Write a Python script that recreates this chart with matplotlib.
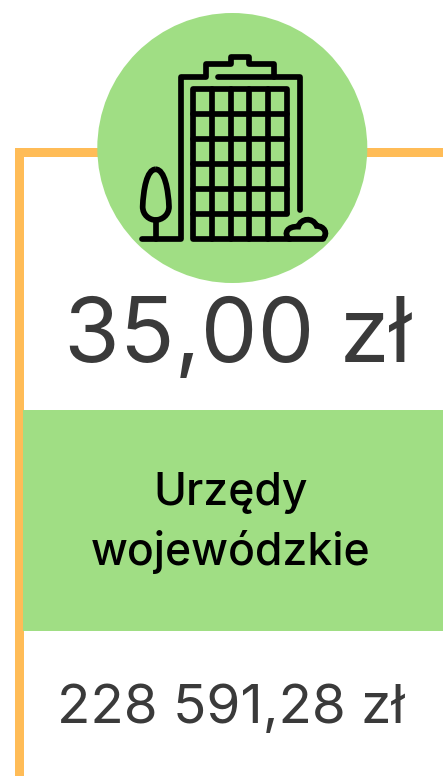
import matplotlib
matplotlib.use("Agg")
import matplotlib.pyplot as plt
from matplotlib.patches import Circle, Rectangle, PathPatch
from matplotlib.path import Path

# Values shown on the card
price_label = "35,00 zł"
category_lines = ["Urzędy", "wojewódzkie"]
total_label = "228 591,28 zł"

ORANGE = "#FFBC57"
GREEN = "#A0DE84"
DARK = "#3A3A3A"
FONT = ["Inter", "DejaVu Sans"]

W, H = 443, 776
fig = plt.figure(figsize=(W / 100, H / 100), dpi=100, facecolor="white")
ax = fig.add_axes([0, 0, 1, 1])
ax.set_xlim(0, W)
ax.set_ylim(H, 0)
ax.axis("off")

# Orange frame
ax.add_patch(Rectangle((15, 148), W - 15, 9, color=ORANGE, lw=0, zorder=1))
ax.add_patch(Rectangle((15, 148), 9, H - 148, color=ORANGE, lw=0, zorder=1))
# Green band
ax.add_patch(Rectangle((23, 410), W - 23, 220.5, color=GREEN, lw=0, zorder=2))
# Circle
ax.add_patch(Circle((232.3, 148), 135, color=GREEN, lw=0, zorder=3))


def z(px, py):
    """Icon sketch coordinates to picture pixels."""
    return (px / 3 + 90, py / 3)


LW = 4.1


def stroke(points):
    ax.plot(*zip(*[z(*p) for p in points]), color="black", lw=LW,
            solid_capstyle="round", solid_joinstyle="round", zorder=4)


# Building outline and roof
stroke([(155, 717), (272, 717), (272, 230), (347, 230), (347, 192), (422, 192),
        (422, 172), (478, 172), (478, 192), (553, 192), (553, 230)])
stroke([(383, 230), (630, 230), (630, 630)])
# Windows
stroke([(590, 640), (590, 268), (308, 268), (308, 717), (600, 717)])
for gx in (365, 422, 478, 535):
    stroke([(gx, 268), (gx, 717)])
for gy in (343, 418, 492, 567, 642):
    stroke([(308, gy), (590, gy)])
# Tree
stroke([(197, 660), (197, 717)])
C4 = Path.CURVE4
tree = [(197, 508), (170, 508), (160, 570), (158, 620),
        (158, 645), (178, 660), (197, 660),
        (216, 660), (237, 645), (237, 620),
        (235, 570), (224, 508), (197, 508)]
ax.add_patch(PathPatch(Path([z(*p) for p in tree], [Path.MOVETO] + [C4] * 12),
                       fc="none", ec="black", lw=LW, zorder=4))
# Bush
bush = [(597, 717), (580, 700), (592, 678), (625, 680),
        (632, 655), (668, 650), (680, 678),
        (702, 678), (716, 700), (698, 717)]
ax.add_patch(PathPatch(Path([z(*p) for p in bush], [Path.MOVETO] + [C4] * 9),
                       fc="none", ec="black", lw=LW, zorder=4))
stroke([(597, 717), (698, 717)])

# Text
ax.text(237.5, 362, price_label, ha="center", va="baseline", fontsize=65,
        color=DARK, family=FONT, fontweight="normal", zorder=5)
ax.text(231, 505, category_lines[0], ha="center", va="baseline", fontsize=32,
        color="black", family=FONT, fontweight="medium", zorder=5)
ax.text(231, 565, category_lines[1], ha="center", va="baseline", fontsize=32,
        color="black", family=FONT, fontweight="medium", zorder=5)
ax.text(231, 723, total_label, ha="center", va="baseline", fontsize=39.5,
        color=DARK, family=FONT, fontweight="normal", zorder=5)

fig.savefig("out.png", dpi=100)
